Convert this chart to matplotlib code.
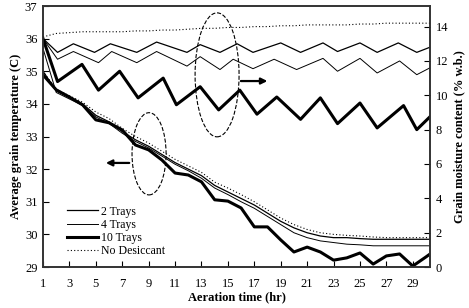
import matplotlib
matplotlib.use("Agg")
import matplotlib.pyplot as plt
from matplotlib.patches import Ellipse

plt.rcParams['font.family'] = ['Liberation Serif', 'DejaVu Serif']

# aeration time (hr)
hours = list(range(1, 32))

# grain temperature (C) - left axis
temp_2trays = [35.0, 34.4, 34.2, 34.0, 33.65, 33.45, 33.15, 32.9, 32.7, 32.45,
               32.2, 32.0, 31.8, 31.5, 31.3, 31.1, 30.9, 30.65, 30.4, 30.2,
               30.05, 29.95, 29.9, 29.9, 29.87, 29.85, 29.85, 29.85, 29.85, 29.85, 29.85]
temp_4trays = [35.7, 34.35, 34.15, 33.95, 33.6, 33.4, 33.1, 32.85, 32.65, 32.4,
               32.15, 31.95, 31.72, 31.42, 31.22, 31.0, 30.8, 30.55, 30.3, 30.05,
               29.9, 29.8, 29.75, 29.7, 29.68, 29.65, 29.65, 29.65, 29.65, 29.65, 29.65]
temp_10trays = [34.89, 34.43, 34.21, 33.97, 33.51, 33.42, 33.2, 32.74, 32.59, 32.28,
                31.88, 31.82, 31.61, 31.06, 31.02, 30.81, 30.23, 30.23, 29.83, 29.46,
                29.61, 29.46, 29.21, 29.28, 29.43, 29.09, 29.34, 29.4, 29.03, 29.31, 29.6]
temp_nodes = [35.0, 34.45, 34.25, 34.05, 33.75, 33.55, 33.25, 33.0, 32.8, 32.55,
              32.3, 32.1, 31.9, 31.6, 31.42, 31.22, 31.0, 30.75, 30.5, 30.3,
              30.15, 30.05, 30.0, 29.97, 29.95, 29.92, 29.9, 29.9, 29.9, 29.9, 29.9]

# grain moisture content (% w.b.) - right axis, read at the peaks and dips
t_mc_2trays = [1, 2.1, 3.3, 4.9, 6.1, 8.1, 9.6, 11.9, 12.9, 14.4, 15.7,
               16.9, 19.0, 20.5, 22.2, 23.3, 25.0, 26.3, 27.9, 29.3, 30.3]
mc_2trays = [13.3, 12.5, 13.0, 12.5, 13.0, 12.5, 13.1, 12.5, 12.95, 12.5, 13.0,
             12.5, 13.05, 12.5, 13.05, 12.55, 13.05, 12.5, 13.05, 12.5, 12.8]
t_mc_4trays = [1, 2.1, 3.3, 5.2, 6.2, 8.1, 9.6, 11.9, 12.9, 14.4, 15.4,
               16.9, 18.5, 20.2, 22.2, 23.3, 25.0, 26.3, 28.0, 29.3, 30.3]
mc_4trays = [13.3, 12.1, 12.55, 11.9, 12.55, 11.9, 12.55, 11.7, 12.25, 11.5, 12.1,
             11.55, 12.1, 11.5, 12.15, 11.4, 12.15, 11.3, 12.0, 11.2, 11.6]
t_mc_10trays = [1, 2.1, 3.95, 5.2, 6.8, 8.2, 10.1, 11.1, 12.9, 14.3, 15.9,
                17.2, 18.7, 20.5, 22.0, 23.3, 25.0, 26.3, 28.3, 29.3, 30.3]
mc_10trays = [13.3, 10.8, 11.8, 10.3, 11.4, 9.85, 11.0, 9.45, 10.5, 9.15, 10.3,
              8.9, 9.9, 8.6, 9.85, 8.35, 9.55, 8.1, 9.4, 8.0, 8.75]
mc_nodes = [13.4, 13.6, 13.65, 13.7, 13.7, 13.7, 13.7, 13.75, 13.75, 13.8,
            13.8, 13.85, 13.9, 13.9, 13.95, 13.95, 14.0, 14.0, 14.05, 14.05,
            14.1, 14.1, 14.1, 14.1, 14.15, 14.15, 14.2, 14.2, 14.2, 14.2, 14.2]

x_ticks = list(range(1, 30, 2))
left_ticks = list(range(29, 38))
right_ticks = list(range(0, 15, 2))

fig = plt.figure(figsize=(4.69, 3.08), dpi=100)
ax = fig.add_axes([0.0917, 0.1331, 0.8251, 0.8474])
ax2 = ax.twinx()

dots = (0, (1, 2))
ax.plot(hours, temp_2trays, color="k", lw=0.9, label="2 Trays")
ax.plot(hours, temp_4trays, color="k", lw=0.7, label="4 Trays")
ax.plot(hours, temp_10trays, color="k", lw=2.2, label="10 Trays")
ax.plot(hours, temp_nodes, color="k", lw=0.8, ls=dots, label="No Desiccant")

ax2.plot(t_mc_2trays, mc_2trays, color="k", lw=0.9)
ax2.plot(t_mc_4trays, mc_4trays, color="k", lw=0.7)
ax2.plot(t_mc_10trays, mc_10trays, color="k", lw=2.2)
ax2.plot(hours, mc_nodes, color="k", lw=0.8, ls=dots)

ax.set_xlim(1, 30.3)
ax.set_ylim(29, 37)
ax2.set_ylim(0, 15.2)
ax.set_xticks(x_ticks)
ax.set_yticks(left_ticks)
ax2.set_yticks(right_ticks)
ax.tick_params(direction="in", length=4, width=0.8, labelsize=9, pad=8)
ax.tick_params(axis="y", pad=4)
ax2.tick_params(direction="in", length=4, width=0.8, labelsize=9, pad=4)
for a in (ax, ax2):
    for s in a.spines.values():
        s.set_linewidth(1.2)
        s.set_color("#333333")

ax.set_xlabel("Aeration time (hr)", fontsize=9, fontweight="bold", labelpad=1)
ax.set_ylabel("Average grain temperature (C)", fontsize=9, fontweight="bold", labelpad=2)
ax2.set_ylabel("Grain moisture content (% w.b.)", fontsize=9, fontweight="bold", labelpad=4)

# dashed ellipses with arrows pointing to the axis each group belongs to
ax.add_patch(Ellipse((9.03, 32.47), 2.58, 2.52, fill=False, ls="--", lw=0.8, color="k"))
ax.annotate("", xy=(5.55, 32.19), xytext=(7.74, 32.19),
            arrowprops=dict(arrowstyle="-|>", lw=1.6, color="k", mutation_scale=9))
ax.add_patch(Ellipse((14.18, 34.89), 3.33, 3.8, fill=False, ls="--", lw=0.8, color="k"))
ax.annotate("", xy=(18.2, 34.7), xytext=(15.77, 34.7),
            arrowprops=dict(arrowstyle="-|>", lw=1.6, color="k", mutation_scale=9))

ax.legend(loc="lower left", bbox_to_anchor=(0.05, 0.02), frameon=False, fontsize=8.5,
          handlelength=2.6, handletextpad=0.3, labelspacing=0.1, borderaxespad=0)

fig.savefig("out.png", dpi=100)
